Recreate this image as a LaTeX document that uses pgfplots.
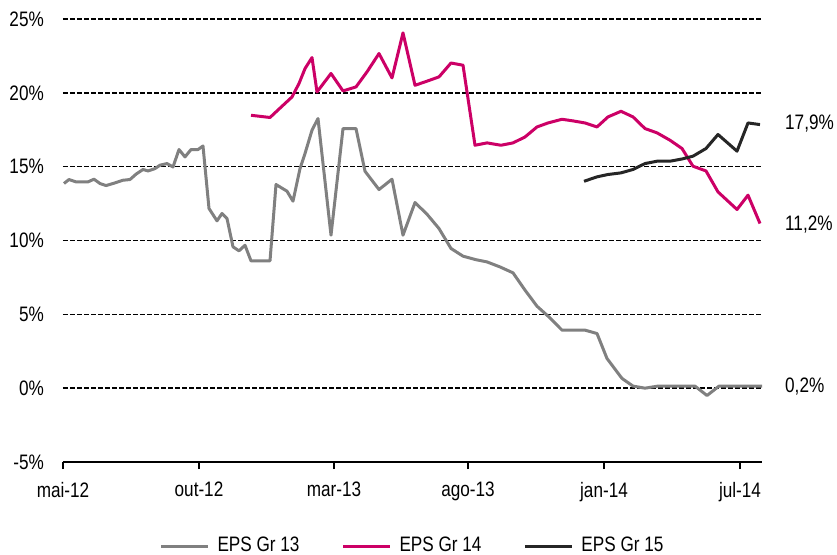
\documentclass[border=0pt]{standalone}
\usepackage{fontspec}
\setmainfont[FakeStretch=0.82]{Liberation Sans}
\usepackage{pgfplots}
\pgfplotsset{compat=1.18}
\definecolor{grA}{RGB}{128,128,128}
\definecolor{mgB}{RGB}{204,0,102}
\definecolor{dkC}{RGB}{38,38,38}
\begin{document}
\fontsize{21}{24}\selectfont
\begin{tikzpicture}
\path[use as bounding box] (-63bp,-93bp) rectangle (774bp,462bp);
\begin{axis}[
  at={(0,0)}, anchor=south west,
  scale only axis, width=699bp, height=443bp,
  xmin=63, xmax=762, ymin=-5, ymax=25,
  clip=false,
  axis x line*=bottom, axis y line*=left,
  y axis line style={draw=none},
  x axis line style={line width=1.5bp, -},
  xtick={63,199,334,468,604,740},
  xticklabels={mai-12,out-12,mar-13,ago-13,jan-14,jul-14},
  ytick={-5,0,5,10,15,20,25},
  yticklabels={-5\%,0\%,5\%,10\%,15\%,20\%,25\%},
  tick align=outside,
  major tick length=7bp,
  xtick style={draw=black, line width=1.5bp},
  ytick style={draw=none},
  ymajorgrids,
  major grid style={black, line width=1.6bp, dash pattern=on 5bp off 2bp},
  yticklabel style={xshift=-5bp},
  xticklabel style={yshift=-6bp},
  /pgf/number format/assume math mode=true,
  legend columns=3,
  legend style={draw=none, fill=none, at={(axis description cs:0.5,-0.19)}, anchor=center,
    /tikz/every odd column/.append style={column sep=6bp},
    /tikz/every even column/.append style={column sep=40bp}},
  legend image code/.code={\draw[#1] (0bp,0bp) -- (47bp,0bp);},
  every axis plot/.append style={line width=3bp, line join=round},
]
\addplot[grA] coordinates {
(64,13.86) (69,14.13) (76,13.97) (88,13.97) (94,14.15) (100,13.86) (106,13.72) (113,13.86)
(123,14.08) (130,14.13) (136,14.49) (143,14.81) (148,14.71) (155,14.87) (160,15.10) (167,15.21)
(173,14.98) (179,16.16) (185,15.66) (191,16.16) (198,16.16) (203,16.40) (209,12.17) (217,11.33)
(222,11.83) (227,11.49) (233,9.57) (239,9.30) (245,9.68) (251,8.62) (270,8.62) (276,13.79)
(287,13.34) (293,12.66) (300,14.87) (305,15.89) (312,17.47) (318,18.26) (331,10.36) (343,17.58)
(356,17.58) (365,14.69) (379,13.45) (392,14.15) (403,10.36) (415,12.57) (427,11.78) (439,10.81)
(451,9.46) (463,8.94) (476,8.70) (487,8.55) (500,8.21) (513,7.81) (525,6.64) (537,5.55)
(548,4.88) (562,3.93) (585,3.93) (597,3.70) (607,2.01) (622,0.66) (633,0.14) (645,0.0)
(658,0.14) (695,0.14) (707,-0.5) (719,0.14) (762,0.14)
};
\addlegendentry{EPS Gr 13}
\addplot[mgB] coordinates {
(251,18.48) (270,18.33) (282,19.09) (292,19.72) (299,20.63) (305,21.64) (312,22.39) (317,20.06)
(331,21.31) (343,20.13) (356,20.40) (367,21.42) (379,22.66) (392,21.01) (403,24.06) (415,20.51)
(427,20.79) (439,21.08) (451,22.02) (463,21.87) (475,16.45) (487,16.61) (501,16.45) (513,16.61)
(525,17.01) (537,17.69) (548,17.96) (562,18.21) (573,18.10) (585,17.96) (597,17.69) (608,18.37)
(621,18.75) (633,18.37) (645,17.58) (657,17.29) (670,16.79) (682,16.23) (693,15.03) (706,14.71)
(718,13.29) (737,12.10) (748,13.07) (760,11.15)
};
\addlegendentry{EPS Gr 14}
\addplot[dkC] coordinates {
(584,14.01) (597,14.31) (608,14.47) (621,14.58) (633,14.81) (645,15.21) (657,15.37) (670,15.37)
(682,15.52) (693,15.71) (706,16.23) (718,17.18) (737,16.05) (748,17.96) (760,17.85)
};
\addlegendentry{EPS Gr 15}
\node[anchor=west, inner sep=0pt] at (axis cs:785,17.9) {17,9\%};
\node[anchor=west, inner sep=0pt] at (axis cs:785,11.1) {11,2\%};
\node[anchor=west, inner sep=0pt] at (axis cs:785,0.1) {0,2\%};
\end{axis}
\end{tikzpicture}
\end{document}
